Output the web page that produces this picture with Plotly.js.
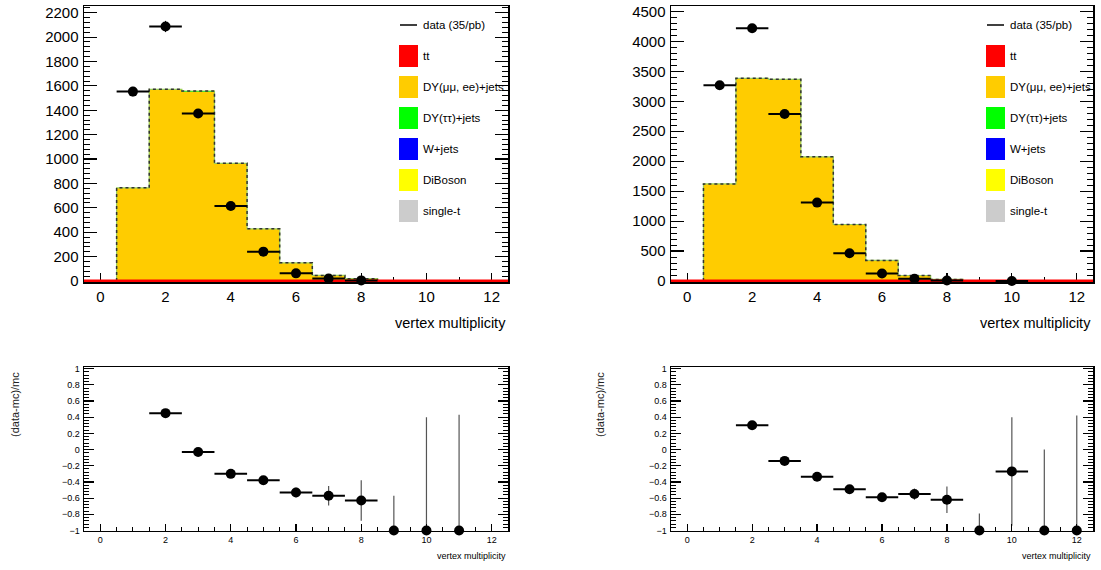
<!DOCTYPE html>
<html>
<head>
<meta charset="utf-8">
<script src="https://cdn.plot.ly/plotly-3.0.1.min.js"></script>
<style>html,body{margin:0;padding:0;background:#fff;}#chart{width:1101px;height:570px;}</style>
</head>
<body>
<div id="chart"></div>
<script>
// ---------------- data ----------------
const bins = [1, 2, 3, 4, 5, 6, 7, 8];
const allBins = [0, 1, 2, 3, 4, 5, 6, 7, 8, 9, 10, 11, 12];

// left panel
const dataXL = [1, 2, 3, 4, 5, 6, 7, 8];
const dataL = [1553, 2087, 1374, 615, 241, 63, 20, 5];
const dataErrL = [39, 46, 37, 25, 16, 8, 4, 2];
const ttL = [0, 0.5, 1, 1, 0.8, 0.5, 0.2, 0.1, 0, 0, 0, 0, 0];
const dyL = [759, 1565, 1551, 960, 425, 148, 45, 19];
const dyTauL = [3, 5, 5, 4, 2, 1, 0.5, 0.3];
const wjetsL = [1, 1, 1, 0.5, 0.3, 0.2, 0.1, 0];
const dibosonL = [0.5, 0.5, 0.5, 0.3, 0.2, 0.1, 0.1, 0.1];
const singleTL = [0.3, 0.5, 0.5, 0.3, 0.2, 0.1, 0.1, 0];

const ratioXL = [2, 3, 4, 5, 6, 7, 8, 9, 10, 11];
const ratioL = [0.45, -0.03, -0.30, -0.38, -0.53, -0.57, -0.63, -1, -1, -1];
const ratioUpL = [0.03, 0.02, 0.03, 0.04, 0.06, 0.12, 0.25, 0.43, 1.40, 1.43];
const ratioDnL = [0.03, 0.02, 0.03, 0.04, 0.06, 0.12, 0.25, 0, 0, 0];
const ratioExL = [0.5, 0.5, 0.5, 0.5, 0.5, 0.5, 0.5, 0, 0, 0];

// right panel
const dataXR = [1, 2, 3, 4, 5, 6, 7, 8, 10];
const dataR = [3268, 4218, 2789, 1309, 465, 126, 39, 10, 2];
const dataErrR = [57, 65, 53, 36, 22, 11, 6, 3, 1.4];
const ttR = [0, 1, 2, 2, 1.5, 1, 0.5, 0.2, 0, 0, 0, 0, 0];
const dyR = [1612, 3372, 3357, 2066, 939, 341, 91, 27];
const dyTauR = [5, 7, 6, 5, 3, 2, 1, 0.5];
const wjetsR = [1.5, 2, 2, 1, 0.8, 0.4, 0.2, 0.1];
const dibosonR = [1, 1, 1, 0.8, 0.5, 0.3, 0.2, 0.1];
const singleTR = [0.5, 1, 1, 0.5, 0.3, 0.2, 0.1, 0.05];

const ratioXR = [2, 3, 4, 5, 6, 7, 8, 9, 10, 11, 12];
const ratioR = [0.30, -0.14, -0.335, -0.49, -0.59, -0.55, -0.62, -1, -0.27, -1, -1];
const ratioUpR = [0.02, 0.02, 0.02, 0.03, 0.04, 0.07, 0.165, 0.21, 0.67, 1.0, 1.42];
const ratioDnR = [0.02, 0.02, 0.02, 0.03, 0.04, 0.07, 0.165, 0, 0.67, 0, 0];
const ratioExR = [0.5, 0.5, 0.5, 0.5, 0.5, 0.5, 0.5, 0, 0.5, 0, 0];

const legendLabels = ["tt", "DY(\u03bc\u03bc, ee)+jets", "DY(\u03c4\u03c4)+jets", "W+jets", "DiBoson", "single-t"];
const legendColors = ["#ff0000", "#ffcc00", "#00ff00", "#0000ff", "#ffff00", "#cccccc"];
const dataLabel = "data (35/pb)";
const xTitle = "vertex multiplicity";
const ratioTitle = "(data-mc)/mc";

// ---------------- helpers ----------------
const W = 1101, H = 570;
const FONT = "'Liberation Sans Narrow', 'Arial Narrow', 'Liberation Sans', Arial, sans-serif";
const px = v => v / W;
const py = v => 1 - v / H;

function stackTraces(xa, ya, comps) {
  const tr = [];
  const names = ["DY(\u03bc\u03bc, ee)+jets", "DY(\u03c4\u03c4)+jets", "W+jets", "DiBoson", "single-t"];
  const cols = ["#ffcc00", "#00ff00", "#0000ff", "#ffff00", "#cccccc"];
  comps.forEach((vals, i) => {
    tr.push({type: 'bar', x: bins, y: vals, width: 1, name: names[i], xaxis: xa, yaxis: ya,
      marker: {color: cols[i], line: {width: 0}}, showlegend: false, hoverinfo: 'skip'});
  });
  return tr;
}

function outlineTraces(xa, ya, comps) {
  const tot = bins.map((b, i) => comps.reduce((s, c) => s + c[i], 0));
  const xs = [bins[0] - 0.5].concat(bins.map(b => b - 0.5)).concat([bins[bins.length - 1] + 0.5, bins[bins.length - 1] + 0.5]);
  const ys = [0].concat(tot).concat([tot[tot.length - 1], 0]);
  return [
    {type: 'scatter', mode: 'lines', x: xs, y: ys, xaxis: xa, yaxis: ya, line: {shape: 'hv', color: '#9bcf55', width: 1.2}, showlegend: false, hoverinfo: 'skip'},
    {type: 'scatter', mode: 'lines', x: xs, y: ys, xaxis: xa, yaxis: ya, line: {shape: 'hv', color: '#333', width: 1.5, dash: 'dot'}, showlegend: false, hoverinfo: 'skip'}
  ];
}

function ttTrace(xa, ya, vals) {
  const xs = allBins.map(b => b - 0.5).concat([allBins[allBins.length - 1] + 0.5]);
  const ys = vals.concat([vals[vals.length - 1]]);
  return {type: 'scatter', mode: 'lines', x: xs, y: ys, xaxis: xa, yaxis: ya,
    line: {shape: 'hv', color: '#ff0000', width: 3}, name: 'tt', showlegend: false, hoverinfo: 'skip'};
}

function dataTrace(xa, ya, x, y, err) {
  return {type: 'scatter', mode: 'markers', x: x, y: y, xaxis: xa, yaxis: ya, name: dataLabel,
    marker: {color: '#000', size: 10, symbol: 'circle'},
    error_x: {type: 'constant', value: 0.5, color: '#000', thickness: 2, width: 0},
    error_y: {type: 'data', array: err, color: '#000', thickness: 1, width: 0},
    showlegend: false, cliponaxis: false};
}

function ratioTrace(xa, ya, x, y, up, dn, ex) {
  return {type: 'scatter', mode: 'markers', x: x, y: y, xaxis: xa, yaxis: ya, name: 'ratio',
    marker: {color: '#000', size: 10, symbol: 'circle'},
    error_x: {type: 'data', array: ex, color: '#000', thickness: 2, width: 0},
    error_y: {type: 'data', symmetric: false, array: up, arrayminus: dn, color: '#555', thickness: 1.2, width: 0},
    showlegend: false, cliponaxis: false};
}

function xAxis(dom, anchor, fsize, tlen, mlen, mdt, layer) {
  return {domain: dom, anchor: anchor, range: [-0.5, 12.5], dtick: 2, tick0: 0,
    ticks: 'inside', ticklen: tlen, tickwidth: 1.2, tickcolor: '#000',
    minor: {ticks: 'inside', ticklen: mlen, dtick: mdt, tick0: 0, tickcolor: '#000', tickwidth: 1},
    showline: true, linecolor: '#000', linewidth: 1.5, mirror: true, layer: layer,
    showgrid: false, zeroline: false, tickfont: {family: FONT, size: fsize, color: '#000'}, fixedrange: true};
}
function yAxis(dom, anchor, range, dt, mdt, fsize, tlen, mlen, t0) {
  return {domain: dom, anchor: anchor, range: range, dtick: dt, tick0: t0,
    ticks: 'inside', ticklen: tlen, tickwidth: 1.2, tickcolor: '#000',
    minor: {ticks: 'inside', ticklen: mlen, dtick: mdt, tick0: t0, tickcolor: '#000', tickwidth: 1},
    showline: true, linecolor: '#000', linewidth: 1.5, mirror: 'allticks',
    showgrid: false, zeroline: false, tickfont: {family: FONT, size: fsize, color: '#000'},
    ticklabelstandoff: 1, ticklabeloverflow: 'allow', fixedrange: true};
}

// ---------------- traces ----------------
const compsL = [dyL, dyTauL, wjetsL, dibosonL, singleTL];
const compsR = [dyR, dyTauR, wjetsR, dibosonR, singleTR];

const traces = [].concat(
  stackTraces('x', 'y', compsL),
  stackTraces('x2', 'y2', compsR),
  outlineTraces('x', 'y', compsL),
  outlineTraces('x2', 'y2', compsR),
  [ttTrace('x', 'y', ttL), ttTrace('x2', 'y2', ttR),
   dataTrace('x', 'y', dataXL, dataL, dataErrL),
   dataTrace('x2', 'y2', dataXR, dataR, dataErrR),
   ratioTrace('x3', 'y3', ratioXL, ratioL, ratioUpL, ratioDnL, ratioExL),
   ratioTrace('x4', 'y4', ratioXR, ratioR, ratioUpR, ratioDnR, ratioExR)]
);

// ---------------- layout ----------------
const frames = {
  TL: {x: [84, 508], y: [6, 282]},
  TR: {x: [671, 1093], y: [6, 282]},
  BL: {x: [84, 508], y: [367, 530.5]},
  BR: {x: [671, 1093], y: [367, 530.5]}
};
const xd = f => [px(f.x[0]), px(f.x[1])];
const yd = f => [py(f.y[1]), py(f.y[0])];

const shapes = [];
const annotations = [];

function addLegend(fr) {
  const x0 = fr.x[0];
  shapes.push({type: 'line', xref: 'paper', yref: 'paper', x0: px(x0 + 316), x1: px(x0 + 333), y0: py(25), y1: py(25), line: {color: '#000', width: 1.5}});
  annotations.push({xref: 'paper', yref: 'paper', x: px(x0 + 337), y: py(25), xanchor: 'left', yanchor: 'middle', showarrow: false,
    text: dataLabel, font: {family: FONT, size: 11.5, color: '#000'}});
  legendLabels.forEach((lab, i) => {
    const cy = 56 + 31 * i;
    shapes.push({type: 'rect', xref: 'paper', yref: 'paper', x0: px(x0 + 315), x1: px(x0 + 334), y0: py(cy + 11), y1: py(cy - 11),
      fillcolor: legendColors[i], line: {width: 0}});
    annotations.push({xref: 'paper', yref: 'paper', x: px(x0 + 337), y: py(cy), xanchor: 'left', yanchor: 'middle', showarrow: false,
      text: lab, font: {family: FONT, size: 11.5, color: '#000'}});
  });
}
addLegend(frames.TL);
addLegend(frames.TR);

[frames.TL, frames.TR].forEach(fr => {
  annotations.push({xref: 'paper', yref: 'paper', x: px(fr.x[1]), y: py(323), xanchor: 'right', yanchor: 'middle', showarrow: false,
    text: xTitle, font: {family: FONT, size: 14.5, color: '#000'}});
});
[frames.BL, frames.BR].forEach(fr => {
  annotations.push({xref: 'paper', yref: 'paper', x: px(fr.x[1]), y: py(556), xanchor: 'right', yanchor: 'middle', showarrow: false,
    text: xTitle, font: {family: FONT, size: 9, color: '#000'}});
});
[15, 600].forEach(xp => {
  annotations.push({xref: 'paper', yref: 'paper', x: px(xp), y: py(405), xanchor: 'center', yanchor: 'middle', showarrow: false,
    textangle: -90, text: ratioTitle, font: {family: "'Liberation Sans', Arial, sans-serif", size: 11, color: '#222'}});
});

const layout = {
  width: W, height: H,
  margin: {l: 0, r: 0, t: 0, b: 0},
  paper_bgcolor: '#fff', plot_bgcolor: '#fff',
  barmode: 'stack', bargap: 0,
  showlegend: false,
  font: {family: FONT, color: '#000'},
  xaxis: xAxis(xd(frames.TL), 'y', 15, 9, 5, 1, 'below traces'),
  yaxis: yAxis(yd(frames.TL), 'x', [-8, 2255], 200, 40, 15, 13, 6, 0),
  xaxis2: xAxis(xd(frames.TR), 'y2', 15, 9, 5, 1, 'below traces'),
  yaxis2: yAxis(yd(frames.TR), 'x2', [-16, 4590], 500, 100, 15, 13, 6, 0),
  xaxis3: xAxis(xd(frames.BL), 'y3', 9, 7, 4, 0.5, 'above traces'),
  yaxis3: yAxis(yd(frames.BL), 'x3', [-1, 1.02], 0.2, 0.04, 9, 10, 5, -1),
  xaxis4: xAxis(xd(frames.BR), 'y4', 9, 7, 4, 0.5, 'above traces'),
  yaxis4: yAxis(yd(frames.BR), 'x4', [-1, 1.02], 0.2, 0.04, 9, 10, 5, -1),
  shapes: shapes,
  annotations: annotations
};

Plotly.newPlot('chart', traces, layout, {displayModeBar: false, staticPlot: true});
</script>
</body>
</html>
